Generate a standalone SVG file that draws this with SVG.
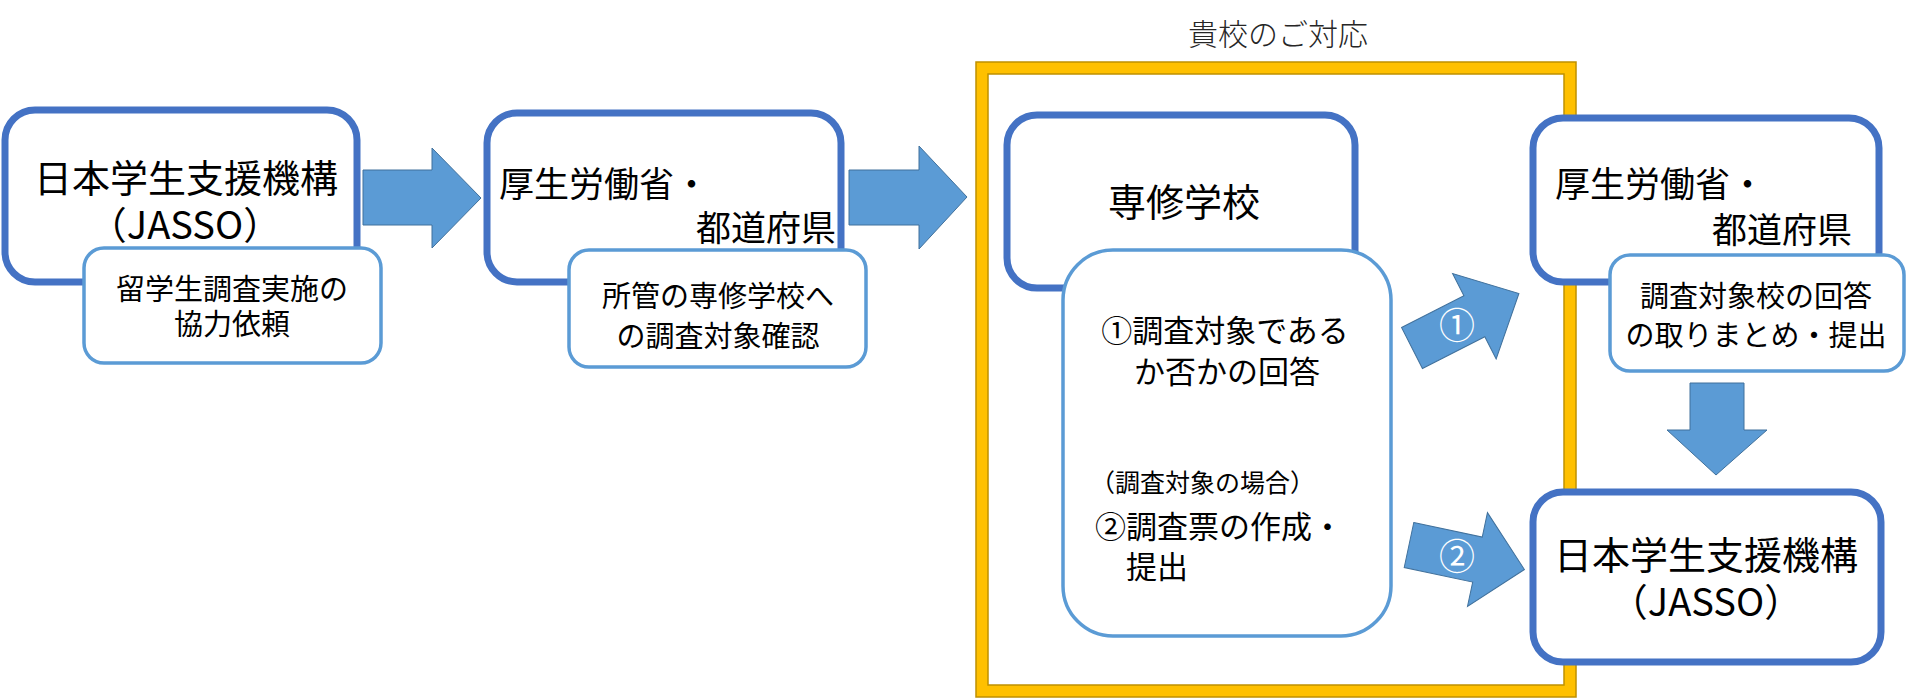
<svg xmlns="http://www.w3.org/2000/svg" width="1908" height="699" viewBox="0 0 1908 699">
<style>
.main{fill:#fff;stroke:#4472C4;stroke-width:7}
.sub{fill:#fff;stroke:#5B9BD5;stroke-width:3.5}
.arr{fill:#5B9BD5;stroke:#41719C;stroke-width:1}
text{font-family:"Noto Sans CJK JP","Noto Sans",sans-serif;fill:#000}
.big{font-size:38px}
.mid{font-size:35px}
.sm{font-size:29px}
.num{font-size:36px;fill:#fff}
</style>
<rect width="1908" height="699" fill="#fff"/>
<g id="frame">
<rect x="982" y="68" width="588" height="623" fill="none" stroke="#FFC000" stroke-width="12"/>
<rect x="976" y="62" width="600" height="635" fill="none" stroke="#BF9000" stroke-width="1.5"/>
<rect x="988" y="74" width="576" height="611" fill="none" stroke="#BF9000" stroke-width="1.5"/>
<text x="1278" y="45" text-anchor="middle" style="font-size:30px;fill:#262626;font-weight:300">貴校のご対応</text>
</g>
<g id="connectors">
<polygon class="arr" points="363,170 432,170 432,148 481,198 432,248 432,225 363,225"/>
<polygon class="arr" points="849,170 919,170 919,146 967,197 919,249 919,225 849,225"/>
<g transform="translate(1412,348) rotate(-27)"><polygon class="arr" points="0,-23 70,-23 70,-48 120,0 70,48 70,23 0,23"/></g>
<g transform="translate(1409,545) rotate(12)"><polygon class="arr" points="0,-23 70,-23 70,-48 118,0 70,48 70,23 0,23"/></g>
<polygon class="arr" points="1690,383 1744,383 1744,430 1767,430 1716,475 1667,430 1690,430"/>
<text class="num" x="1457" y="339" text-anchor="middle">①</text>
<text class="num" x="1457" y="570" text-anchor="middle">②</text>
</g>
<g id="jasso1">
<rect class="main" x="5" y="110" width="352" height="172" rx="30"/>
<text class="big" x="186" y="192" text-anchor="middle">日本学生支援機構</text>
<text class="big" x="185" y="239" text-anchor="middle">（JASSO）</text>
</g>
<g id="req1">
<rect class="sub" x="84" y="248" width="297" height="115" rx="20"/>
<text class="sm" x="232" y="300" text-anchor="middle">留学生調査実施の</text>
<text class="sm" x="232" y="335" text-anchor="middle">協力依頼</text>
</g>
<g id="mhlw1">
<rect class="main" x="487" y="113" width="354" height="169" rx="30"/>
<text class="mid" x="499" y="197">厚生労働省・</text>
<text class="mid" x="836" y="241" text-anchor="end">都道府県</text>
</g>
<g id="req2">
<rect class="sub" x="569" y="250" width="297" height="117" rx="20"/>
<text class="sm" x="718" y="307" text-anchor="middle">所管の専修学校へ</text>
<text class="sm" x="718" y="347" text-anchor="middle">の調査対象確認</text>
</g>
<g id="school">
<rect class="main" x="1007" y="115" width="348" height="173" rx="30"/>
<text class="big" x="1184" y="216" text-anchor="middle">専修学校</text>
</g>
<g id="answer">
<rect class="sub" x="1063" y="250" width="328" height="386" rx="50"/>
<text style="font-size:31px" x="1225" y="342" text-anchor="middle">①調査対象である</text>
<text style="font-size:31px" x="1227" y="383" text-anchor="middle">か否かの回答</text>
<text style="font-size:25px" x="1090" y="492">（調査対象の場合）</text>
<text style="font-size:31px" x="1095" y="538">②調査票の作成・</text>
<text style="font-size:31px" x="1126" y="578">提出</text>
</g>
<g id="mhlw2">
<rect class="main" x="1533" y="118" width="346" height="164" rx="30"/>
<text class="mid" x="1555" y="197">厚生労働省・</text>
<text class="mid" x="1852" y="243" text-anchor="end">都道府県</text>
</g>
<g id="collect">
<rect class="sub" x="1610" y="255" width="294" height="116" rx="20"/>
<text class="sm" x="1756" y="307" text-anchor="middle">調査対象校の回答</text>
<text class="sm" x="1756" y="346" text-anchor="middle">の取りまとめ・提出</text>
</g>
<g id="jasso2">
<rect class="main" x="1533" y="492" width="348" height="170" rx="30"/>
<text class="big" x="1706" y="569" text-anchor="middle">日本学生支援機構</text>
<text class="big" x="1706" y="616" text-anchor="middle">（JASSO）</text>
</g>
</svg>
